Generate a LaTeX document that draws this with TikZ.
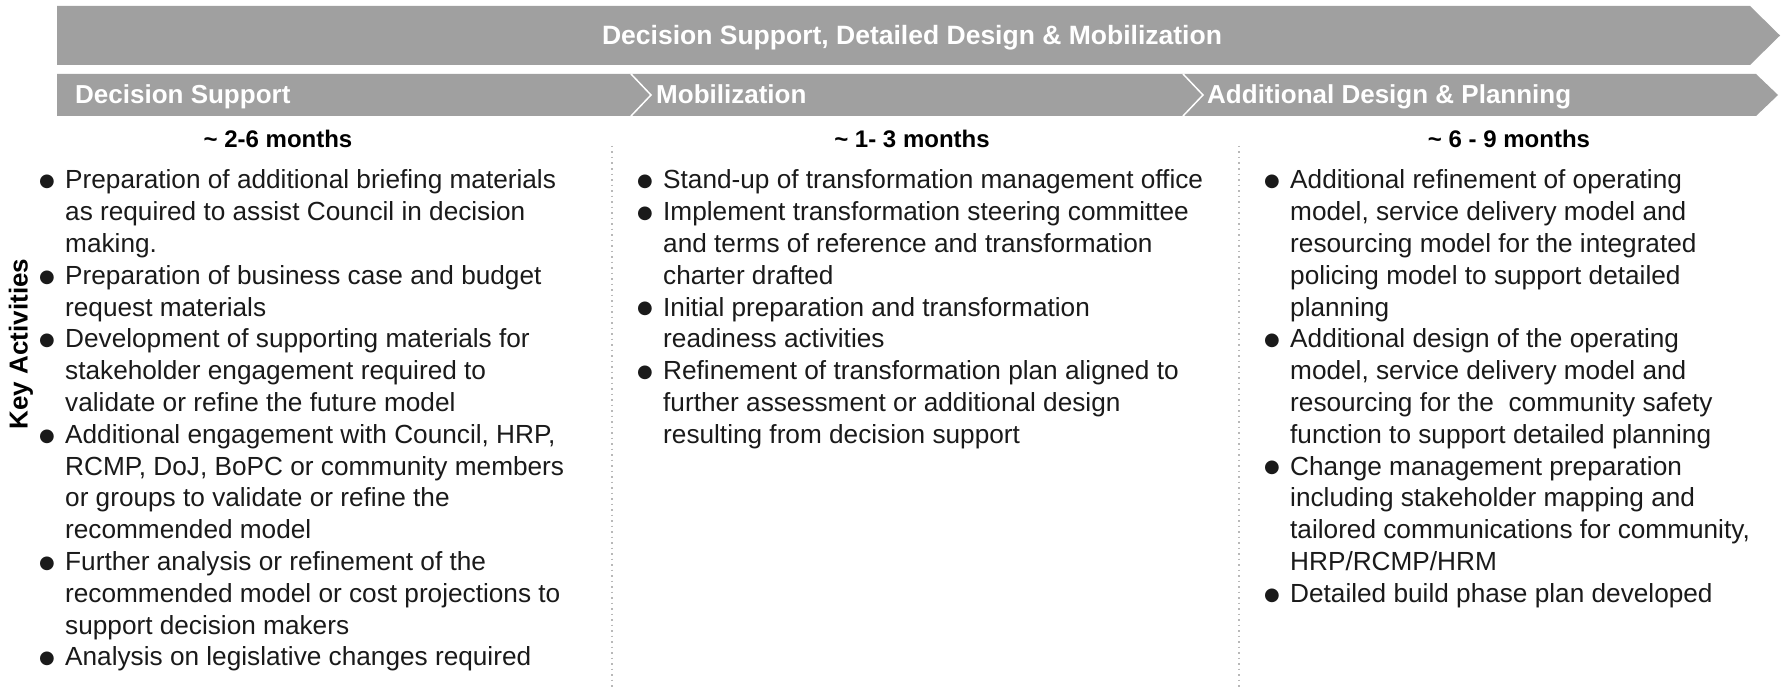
\documentclass[tikz,border=0pt]{standalone}
\usepackage{fontspec}
\setmainfont{Liberation Sans}
\newfontfamily\dejavu{DejaVu Sans}
\definecolor{bandgray}{HTML}{A0A0A0}
\definecolor{bodyblack}{HTML}{1A1A1A}
\definecolor{dotgray}{HTML}{B8B8B8}
\newcommand{\bodyfont}{\fontsize{26.2}{31.8}\selectfont}
\newcommand{\bm}{\raisebox{0.8pt}{$\vcenter{\hbox{\dejavu\fontsize{18}{18}\selectfont ●}}$}}
\begin{document}
\begin{tikzpicture}[x=1pt,y=-1pt,
  band/.style={fill=bandgray, draw=none},
  chev/.style={draw=white, line width=1.5pt},
  titletext/.style={text=white, font=\bfseries\fontsize{26.5}{30}\selectfont, anchor=base, inner sep=0pt},
  phasetext/.style={text=white, font=\bfseries\fontsize{26}{30}\selectfont, anchor=base west, inner sep=0pt},
  monthtext/.style={text=black, font=\bfseries\fontsize{24}{28}\selectfont, anchor=base, inner sep=0pt},
  coltext/.style={text=bodyblack, font=\bodyfont, anchor=base west, inner sep=0pt},
  sideline/.style={draw=dotgray, line width=1.2pt, dash pattern=on 1.5pt off 4pt},
  sidelabel/.style={text=black, font=\bfseries\fontsize{26}{30}\selectfont, rotate=90, inner sep=0pt}]
\useasboundingbox (0,0) rectangle (1783,690);
\fill[white] (0,0) rectangle (1783,690);
% top banner
\path[band] (57,6) -- (1750,6) -- (1780,35.5) -- (1750,65) -- (57,65) -- cycle;
\node[titletext] (title) at (912,44.8) {Decision Support, Detailed Design \& Mobilization};
% phase bar
\path[band] (57,74) -- (1756,74) -- (1778,95) -- (1756,116) -- (57,116) -- cycle;
\draw[chev] (631,74) -- (651,95) -- (631,116);
\draw[chev] (1183,74) -- (1203,95) -- (1183,116);
\node[phasetext] (p1) at (75,104) {Decision Support};
\node[phasetext] (p2) at (656,104) {Mobilization};
\node[phasetext] (p3) at (1207,104) {Additional Design \& Planning};
% months
\node[monthtext] (m1) at (278,147) {\textasciitilde{} 2-6 months};
\node[monthtext] (m2) at (912,147) {\textasciitilde{} 1- 3 months};
\node[monthtext] (m3) at (1509,147) {\textasciitilde{} 6 - 9 months};
% separators
\coordinate (s1t) at (612,146);
\coordinate (s1b) at (612,690);
\coordinate (s2t) at (1239,146);
\coordinate (s2b) at (1239,690);
\draw[sideline] (s1t) -- (s1b);
\draw[sideline] (s2t) -- (s2b);
% side label
\node[sidelabel] (ka) at (21,344) {Key Activities};
% column 1
\node[coltext] (c1) at (39,189) {\begin{tabular}[t]{@{}p{26pt}@{}l@{}}
\bm & Preparation of additional briefing materials\\
 & as required to assist Council in decision\\
 & making.\\
\bm & Preparation of business case and budget\\
 & request materials\\
\bm & Development of supporting materials for\\
 & stakeholder engagement required to\\
 & validate or refine the future model\\
\bm & Additional engagement with Council, HRP,\\
 & RCMP, DoJ, BoPC or community members\\
 & or groups to validate or refine the\\
 & recommended model\\
\bm & Further analysis or refinement of the\\
 & recommended model or cost projections to\\
 & support decision makers\\
\bm & Analysis on legislative changes required
\end{tabular}};
% column 2
\node[coltext] (c2) at (637,189) {\begin{tabular}[t]{@{}p{26pt}@{}l@{}}
\bm & Stand-up of transformation management office\\
\bm & Implement transformation steering committee\\
 & and terms of reference and transformation\\
 & charter drafted\\
\bm & Initial preparation and transformation\\
 & readiness activities\\
\bm & Refinement of transformation plan aligned to\\
 & further assessment or additional design\\
 & resulting from decision support
\end{tabular}};
% column 3
\node[coltext] (c3) at (1264,189) {\begin{tabular}[t]{@{}p{26pt}@{}l@{}}
\bm & Additional refinement of operating\\
 & model, service delivery model and\\
 & resourcing model for the integrated\\
 & policing model to support detailed\\
 & planning\\
\bm & Additional design of the operating\\
 & model, service delivery model and\\
 & resourcing for the \ community safety\\
 & function to support detailed planning\\
\bm & Change management preparation\\
 & including stakeholder mapping and\\
 & tailored communications for community,\\
 & HRP/RCMP/HRM\\
\bm & Detailed build phase plan developed
\end{tabular}};
\end{tikzpicture}
\end{document}
